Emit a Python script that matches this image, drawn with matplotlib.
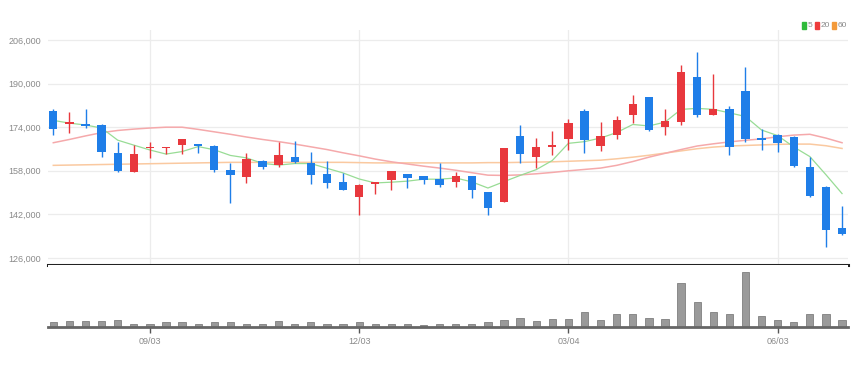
import matplotlib
matplotlib.use("Agg")
import matplotlib.pyplot as plt
import numpy as np

plt.rcParams['font.family'] = ['Liberation Sans', 'DejaVu Sans']

# weekly OHLC (index 0..49)
opens  = [180000,175100,175200,174800,164700,157700,166300,166200,167500,167800,
          167200,158300,155600,161700,160100,163200,161000,156700,153800,148500,
          153200,154600,156700,156000,154900,154000,156000,150100,146700,170800,
          163200,166900,169600,179800,167100,171100,178500,185000,174200,176000,
          192500,178600,180700,187400,170200,171100,170300,159300,152000,136900]
highs  = [180500,179500,180700,175000,168700,167500,168500,166900,169700,168000,
          167300,161000,164400,162000,168400,168900,164800,161700,157100,153000,
          153900,158000,157000,156200,161000,157500,156200,150300,166500,174800,
          170000,172700,176900,180600,176000,178100,185800,185200,180600,196800,
          201500,193500,181900,196000,173200,171500,170700,163200,152300,145200]
lows   = [171100,171800,173600,163200,157700,157500,162600,164100,164100,164400,
          157700,146100,153500,158700,159500,160800,153200,151800,150900,141800,
          149400,151000,151600,153000,152200,152000,147900,141800,146500,161000,
          158900,163800,165600,164400,165400,169600,175400,172500,171100,174800,
          177600,178500,163800,168500,165600,165000,159500,148500,129900,134500]
closes = [173200,175800,174300,165000,157900,164100,166900,166800,169600,167000,
          158300,156500,162300,159500,163900,161100,156500,153600,151000,152800,
          153800,157900,155500,154600,152800,156000,150800,144200,166300,164200,
          166600,167600,175700,169400,170800,176700,182400,173000,176400,194200,
          178500,180700,166600,169600,169400,168300,159900,148900,136300,134800]

ma5  = [176500,175500,174800,173700,169240,167420,165640,164140,165060,166880,
        165720,163640,162740,160720,160100,160660,160660,158920,157220,155000,
        153540,153820,154200,154920,154920,155360,153940,151680,154020,156300,
        158420,161780,168080,168700,170020,172040,175000,174460,175860,180540,
        180900,180560,179280,177920,172960,170920,166760,163220,156560,149640]
ma20 = [168300,169500,170800,172000,172800,173300,173700,174000,174000,173200,
        172300,171400,170400,169500,168700,167800,166800,165800,164600,163500,
        162300,161300,160500,159700,159000,158200,157300,156400,156300,156500,
        156900,157400,158000,158500,159000,160000,161400,163000,164400,165800,
        167100,167900,168600,169200,169700,170500,171100,171400,170000,168300]
ma60 = [160000,160100,160200,160300,160400,160500,160600,160700,160800,160900,
        161000,161100,161100,161100,161100,161100,161100,161100,161100,161000,
        160900,160900,160900,160900,160900,160900,160900,161000,161000,161100,
        161200,161300,161500,161700,161900,162400,163000,163700,164500,165300,
        166100,166700,167100,167300,167500,167700,167800,167800,167200,166200]

volumes = [15,19,19,19,20,10,10,15,15,8,15,15,10,8,19,10,15,10,10,15,
           8,8,8,5,10,10,10,15,20,28,18,24,25,45,20,39,40,28,23,133,
           76,45,38,165,32,20,15,40,40,20]

tick_pos = [6, 19, 32, 45]
tick_labels = ['09/03', '12/03', '03/04', '06/03']
y_ticks = [126000, 142000, 158000, 174000, 190000, 206000]

UP = '#e8383d'
DOWN = '#1f7ee8'
TXT = '#8a8a8a'

W, H = 867, 368
fig = plt.figure(figsize=(W/100, H/100), dpi=100)
ax = fig.add_axes([48/W, 1-265/H, 800/W, 235/H])
axv = fig.add_axes([48/W, 1-327/H, 800/W, 62/H])

x = np.arange(len(closes))
o = np.array(opens); c = np.array(closes); h = np.array(highs); l = np.array(lows)
cols = [UP if cc >= oo else DOWN for oo, cc in zip(o, c)]

# MA lines
ax.plot(x, ma60, color='#fac9a0', lw=1.1, zorder=2)
ax.plot(x, ma20, color='#f5a9ab', lw=1.1, zorder=2)
ax.plot(x, ma5, color='#98dc95', lw=0.9, zorder=2)

ax.vlines(x, l, h, colors=cols, lw=1.0, zorder=3)
body_b = np.minimum(o, c)
body_h = np.maximum(np.abs(c - o), 500)
ax.bar(x, body_h, bottom=body_b, width=0.52, color=cols, zorder=4, linewidth=0)

ax.set_xlim(-0.33, 49.37)
ax.set_ylim(123430, 209670)
ax.set_yticks(y_ticks)
ax.set_yticklabels([f'{v:,}' for v in y_ticks])
ax.set_xticks(tick_pos)
ax.tick_params(axis='x', length=0, labelbottom=False)
ax.tick_params(axis='y', length=0, labelsize=6.5, colors=TXT, pad=5)
ax.grid(True, color='#ececec', lw=0.9)
ax.set_axisbelow(True)
for s in ['top', 'right', 'left']:
    ax.spines[s].set_visible(False)
ax.spines['bottom'].set_color('#222222')
ax.spines['bottom'].set_linewidth(2.2)

# volume
axv.bar(x, volumes, width=0.45, color='#9a9a9a', edgecolor='#7f7f7f', linewidth=0.6)
axv.set_xlim(-0.33, 49.37)
axv.set_ylim(0, 186)
axv.set_yticks([])
axv.set_xticks(tick_pos)
axv.set_xticklabels(tick_labels)
axv.tick_params(axis='x', length=4, width=1, colors='#555555', labelsize=6.5, pad=3)
for lab in axv.get_xticklabels():
    lab.set_color(TXT)
for s in ['top', 'right', 'left']:
    axv.spines[s].set_visible(False)
axv.spines['bottom'].set_color('#666666')
axv.spines['bottom'].set_linewidth(2.0)

# legend
legend_items = [('5', '#2fba3a'), ('20', '#ee3b3b'), ('60', '#f39a3a')]
xpos = [802, 815, 832]
for (lab, col), px in zip(legend_items, xpos):
    fig.patches.append(plt.Rectangle((px/W, 1-29/H), 4/W, 7/H, transform=fig.transFigure,
                                     color=col, figure=fig))
    fig.text((px+5.5)/W, 1-25.5/H, lab, fontsize=6, color=TXT, va='center', ha='left')

fig.savefig('out.png', dpi=100, facecolor='white')
